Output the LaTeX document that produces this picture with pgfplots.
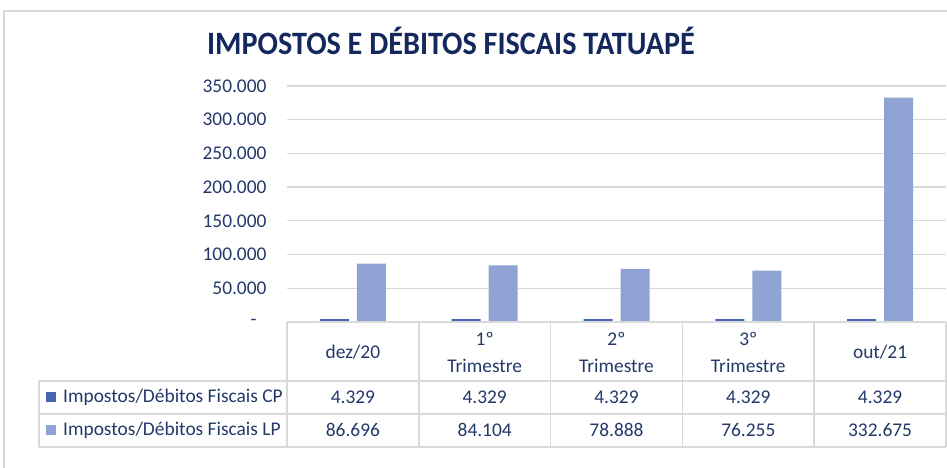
\documentclass[border=0pt]{standalone}
\usepackage{fontspec}
\setmainfont{Carlito}
\usepackage{pgfplots}
\pgfplotsset{compat=1.18}
\definecolor{titlec}{HTML}{14285E}
\definecolor{txt}{HTML}{23386A}
\definecolor{cpc}{HTML}{4466AE}
\definecolor{lpc}{HTML}{8FA4D5}
\definecolor{gridc}{HTML}{D9D9D9}
\newcommand{\tf}{\fontsize{19.4bp}{27bp}\selectfont}
\begin{document}
\begin{tikzpicture}[x=1bp,y=1bp]
\path[use as bounding box] (0,0) rectangle (947,468);
\draw[gridc, line width=1.5bp] (4,0) -- (4,457) -- (947,457);
\node[font=\fontsize{30.2bp}{34bp}\selectfont\bfseries, text=titlec, yscale=1.08, inner sep=0pt] at (451,427) {IMPOSTOS E DÉBITOS FISCAIS TATUAPÉ};
\begin{axis}[at={(287bp,146bp)}, anchor=south west, scale only axis,
  width=659bp, height=236bp,
  xmin=-0.5, xmax=4.5, ymin=0, ymax=350000,
  axis line style={draw=none}, major tick length=0pt,
  xtick=\empty,
  ytick={0,50000,100000,150000,200000,250000,300000,350000},
  yticklabels={-\hspace*{10bp},50.000,100.000,150.000,200.000,250.000,300.000,350.000},
  scaled y ticks=false,
  yticklabel style={font=\tf, text=txt, xshift=-17bp},
  ymajorgrids, grid style={gridc, line width=1.3bp},
  ybar=8bp, bar width=29bp, clip=false]
\addplot[fill=cpc, draw=none] coordinates {(0,4329) (1,4329) (2,4329) (3,4329) (4,4329)};
\addplot[fill=lpc, draw=none] coordinates {(0,86696) (1,84104) (2,78888) (3,76255) (4,332675)};
\end{axis}
\begin{scope}[gridc, line width=1.5bp]
\draw (287,146) -- (946,146);
\draw (39,87) -- (946,87);
\draw (39,54) -- (946,54);
\draw (39,21) -- (946,21);
\draw (39,87) -- (39,21);
\foreach \x in {287,418.8,550.6,682.4,814.2,946} \draw (\x,146) -- (\x,21);
\end{scope}
\begin{scope}[every node/.style={font=\tf, text=txt, inner sep=0pt}]
\node[align=center] at (352.9,116) {dez/20};
\node[align=center] at (484.7,116) {1º\\Trimestre};
\node[align=center] at (616.5,116) {2º\\Trimestre};
\node[align=center] at (748.3,116) {3º\\Trimestre};
\node[align=center] at (880.1,116) {out/21};
\fill[cpc] (46,66) rectangle (56,76);
\fill[lpc] (46,33) rectangle (56,43);
\node[anchor=west] at (63,71) {Impostos/Débitos Fiscais CP};
\node[anchor=west] at (63,38) {Impostos/Débitos Fiscais LP};
\foreach \x/\v in {352.9/4.329,484.7/4.329,616.5/4.329,748.3/4.329,880.1/4.329} \node at (\x,71) {\v};
\foreach \x/\v in {352.9/86.696,484.7/84.104,616.5/78.888,748.3/76.255,880.1/332.675} \node at (\x,38) {\v};
\end{scope}
\end{tikzpicture}
\end{document}
